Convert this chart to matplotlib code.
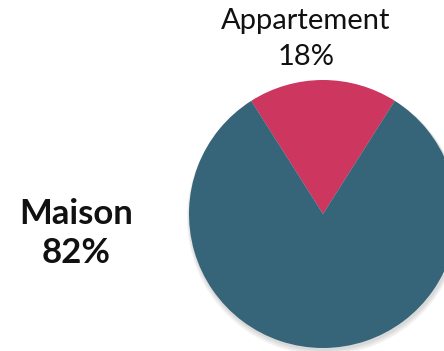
import matplotlib.pyplot as plt
from matplotlib.patches import Circle

labels = ["Appartement", "Maison"]
shares = [18, 82]
colors = ["#CC365F", "#366478"]

W, H = 444, 351
fig = plt.figure(figsize=(W / 100, H / 100), dpi=100)
ax = fig.add_axes([0, 0, 1, 1])

cx, cy, r = 323, 137, 134

# soft drop shadow under the pie
for i in range(3):
    ax.add_patch(Circle((cx + 1, cy - 2 - i), r + 1 + i, color="#000000", alpha=0.05, lw=0, zorder=0))

# first slice centred on the top of the circle
ax.pie(shares, colors=colors, startangle=90 - 3.6 * shares[0] / 2,
       counterclock=True, center=(cx, cy), radius=r, frame=True,
       wedgeprops=dict(linewidth=0))
ax.set_xlim(0, W)
ax.set_ylim(0, H)
ax.set_aspect("equal")
ax.axis("off")

font = "Lato"
ax.text(306, H - 21, labels[0], ha="center", va="center", fontsize=21, family=font, color="#111111")
ax.text(306, H - 57, f"{shares[0]}%", ha="center", va="center", fontsize=21, family=font, color="#111111")
ax.text(76, H - 214, labels[1], ha="center", va="center", fontsize=25, family=font, weight="bold", color="#111111")
ax.text(76, H - 253, f"{shares[1]}%", ha="center", va="center", fontsize=25, family=font, weight="bold", color="#111111")

fig.savefig("out.png", dpi=100)
